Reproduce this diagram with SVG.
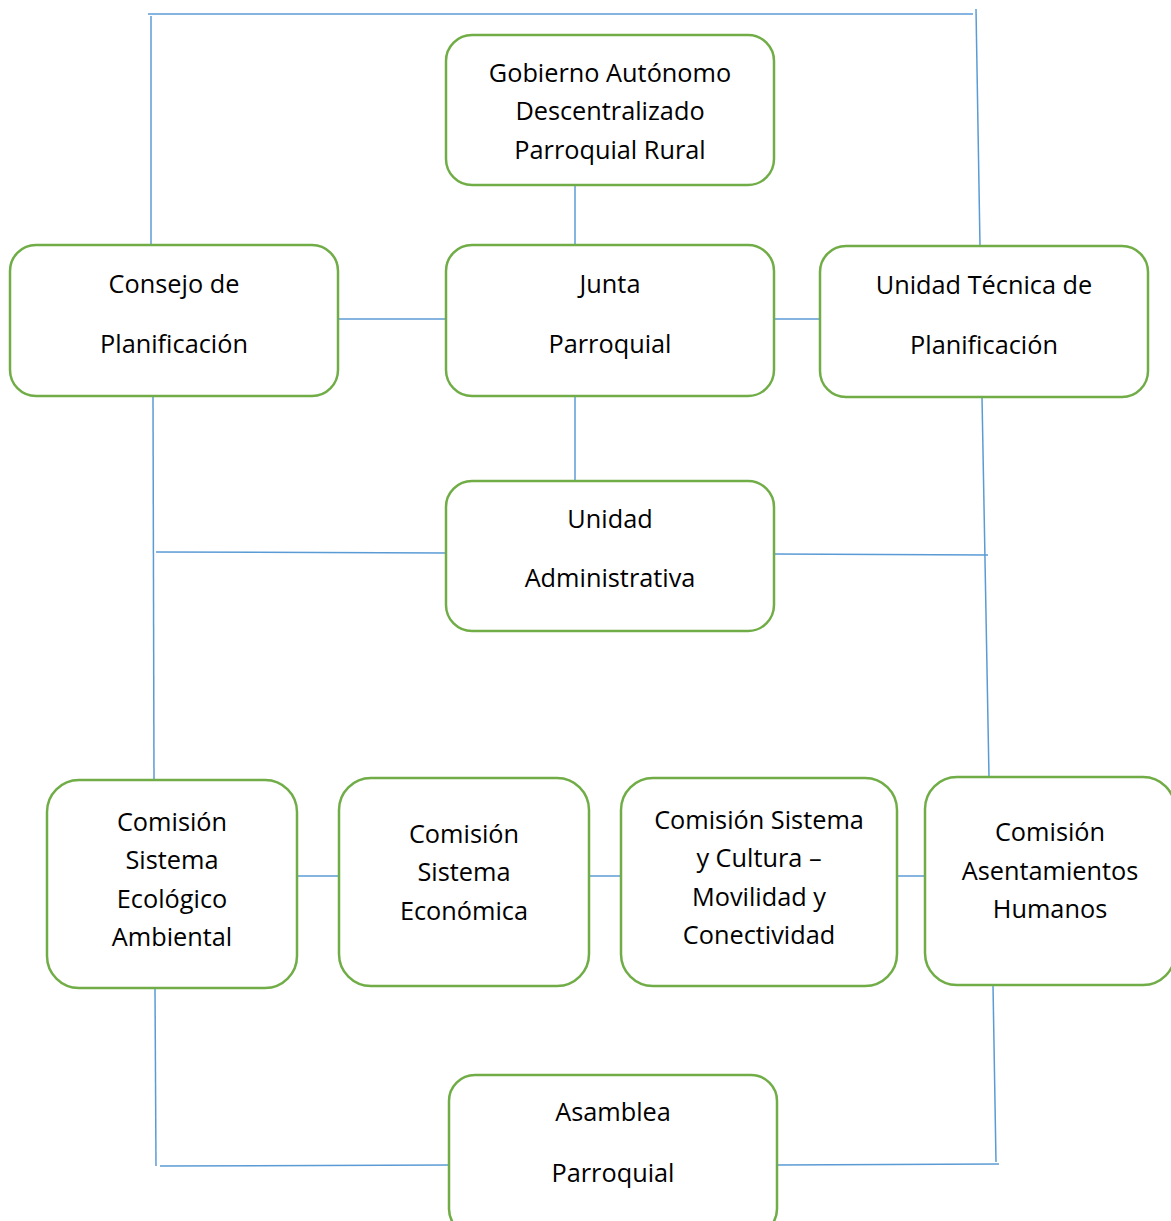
<svg xmlns="http://www.w3.org/2000/svg" width="1171" height="1221" viewBox="0 0 1171 1221">
<style>
.box{fill:#fff;stroke:#70AD47;stroke-width:2.5}
.ln{stroke:#5B9BD5;stroke-width:1.5;fill:none}
text{font-family:"Open Sans","Noto Sans","Liberation Sans",sans-serif;font-size:25.3px;fill:#000;text-anchor:middle;dominant-baseline:central}
</style>
<rect width="1171" height="1221" fill="#fff"/>
<g id="connectors">
<line class="ln" x1="148" y1="14" x2="973" y2="14"/>
<line class="ln" x1="151" y1="16" x2="151" y2="245"/>
<line class="ln" x1="976" y1="9" x2="980" y2="246"/>
<line class="ln" x1="575" y1="185" x2="575" y2="245"/>
<line class="ln" x1="338" y1="319" x2="446" y2="319"/>
<line class="ln" x1="774" y1="319" x2="820" y2="319"/>
<line class="ln" x1="575" y1="396" x2="575" y2="481"/>
<line class="ln" x1="153" y1="396" x2="154" y2="780"/>
<line class="ln" x1="156" y1="552" x2="446" y2="553"/>
<line class="ln" x1="774" y1="554" x2="988" y2="555"/>
<line class="ln" x1="982" y1="397" x2="989" y2="777"/>
<line class="ln" x1="297" y1="876" x2="339" y2="876"/>
<line class="ln" x1="589" y1="876" x2="621" y2="876"/>
<line class="ln" x1="897" y1="876" x2="925" y2="876"/>
<line class="ln" x1="155" y1="988" x2="156" y2="1166"/>
<line class="ln" x1="160" y1="1166" x2="449" y2="1165"/>
<line class="ln" x1="993" y1="985" x2="996" y2="1162"/>
<line class="ln" x1="777" y1="1165" x2="999" y2="1164"/>
</g>
<g id="gobierno">
<rect class="box" x="446" y="35" width="328" height="150" rx="26"/>
<text x="610" y="72">Gobierno Autónomo</text>
<text x="610" y="110">Descentralizado</text>
<text x="610" y="149">Parroquial Rural</text>
</g>
<g id="consejo">
<rect class="box" x="10" y="245" width="328" height="151" rx="26"/>
<text x="174" y="283">Consejo de</text>
<text x="174" y="343">Planificación</text>
</g>
<g id="junta">
<rect class="box" x="446" y="245" width="328" height="151" rx="26"/>
<text x="610" y="283">Junta</text>
<text x="610" y="343">Parroquial</text>
</g>
<g id="unidad-tecnica">
<rect class="box" x="820" y="246" width="328" height="151" rx="26"/>
<text x="984" y="284">Unidad Técnica de</text>
<text x="984" y="344">Planificación</text>
</g>
<g id="unidad-administrativa">
<rect class="box" x="446" y="481" width="328" height="150" rx="26"/>
<text x="610" y="518">Unidad</text>
<text x="610" y="577">Administrativa</text>
</g>
<g id="comision-ecologico">
<rect class="box" x="47" y="780" width="250" height="208" rx="32"/>
<text x="172" y="821">Comisión</text>
<text x="172" y="859">Sistema</text>
<text x="172" y="898">Ecológico</text>
<text x="172" y="936">Ambiental</text>
</g>
<g id="comision-economica">
<rect class="box" x="339" y="778" width="250" height="208" rx="32"/>
<text x="464" y="833">Comisión</text>
<text x="464" y="871">Sistema</text>
<text x="464" y="910">Económica</text>
</g>
<g id="comision-cultura">
<rect class="box" x="621" y="778" width="276" height="208" rx="32"/>
<text x="759" y="819">Comisión Sistema</text>
<text x="759" y="857">y Cultura –</text>
<text x="759" y="896">Movilidad y</text>
<text x="759" y="934">Conectividad</text>
</g>
<g id="comision-asentamientos">
<rect class="box" x="925" y="777" width="250" height="208" rx="32"/>
<text x="1050" y="831">Comisión</text>
<text x="1050" y="870">Asentamientos</text>
<text x="1050" y="908">Humanos</text>
</g>
<g id="asamblea">
<rect class="box" x="449" y="1075" width="328" height="160" rx="26"/>
<text x="613" y="1111">Asamblea</text>
<text x="613" y="1172">Parroquial</text>
</g>
</svg>
